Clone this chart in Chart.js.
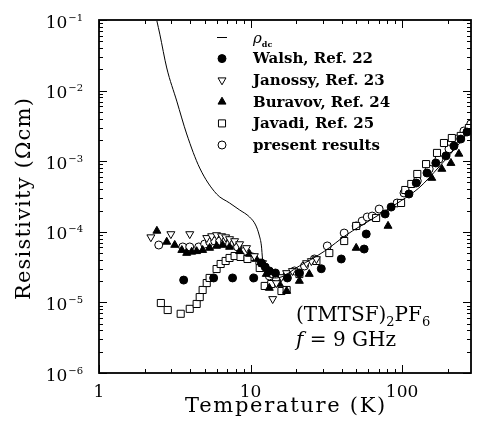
<!DOCTYPE html>
<html>
<head>
<meta charset="utf-8">
<script src="https://cdn.jsdelivr.net/npm/chart.js@4.4.0/dist/chart.umd.min.js"></script>
<style>
  html, body { margin: 0; padding: 0; background: #fff; }
  canvas { display: block; }
</style>
</head>
<body>
<canvas id="resChart" width="477" height="422"></canvas>
<script>
// tick labels
const xTicks = [1, 10, 100];
const yTickExps = [-6, -5, -4, -3, -2, -1];

// dc resistivity curve
const rhoDcT = [2.41, 2.52, 2.80, 3.26, 3.79, 4.62, 5.97, 7.27, 8.47, 9.85, 10.8, 11.4, 11.8, 12.0, 12.4, 13.3, 14.8, 21.0, 30.7, 42.8, 63.5, 91.4, 129, 175, 237, 284];
const rhoDc  = [0.097, 0.063, 0.0209, 7.1e-3, 2.43e-3, 8.0e-4, 3.43e-4, 2.56e-4, 2.04e-4, 1.62e-4, 1.25e-4, 9.0e-5, 6.3e-5, 4.12e-5, 2.79e-5, 2.29e-5, 2.22e-5, 3.28e-5, 5.3e-5, 9.0e-5, 1.52e-4, 2.48e-4, 4.17e-4, 8.28e-4, 1.75e-3, 2.86e-3];

// Walsh, Ref. 22
const walshT   = [3.62, 5.71, 7.61, 10.5, 11.8, 12.5, 13.3, 14.6, 17.5, 21.0, 29.3, 39.7, 56.2, 58.0, 77.3, 84.7, 111, 124, 146, 167, 195, 220, 244, 268];
const walshRho = [2.07e-5, 2.22e-5, 2.22e-5, 2.22e-5, 3.61e-5, 3.17e-5, 2.79e-5, 2.61e-5, 2.22e-5, 2.61e-5, 3.0e-5, 4.12e-5, 5.7e-5, 9.3e-5, 1.79e-4, 2.24e-4, 3.43e-4, 4.91e-4, 6.81e-4, 9.44e-4, 1.19e-3, 1.64e-3, 2.06e-3, 2.59e-3];

// Janossy, Ref. 23
const janossyT   = [2.20, 2.98, 3.97, 5.14, 5.54, 5.97, 6.44, 6.85, 7.27, 7.85, 8.47, 9.41, 10.6, 12.0, 12.9, 14.0, 14.8, 16.0, 17.3, 18.9, 23.4, 25.2, 27.2];
const janossyRho = [8.4e-5, 9.3e-5, 9.3e-5, 8.2e-5, 8.7e-5, 9.0e-5, 8.7e-5, 8.4e-5, 7.9e-5, 7.4e-5, 6.7e-5, 5.9e-5, 4.54e-5, 3.61e-5, 2.79e-5, 1.12e-5, 1.88e-5, 2.29e-5, 2.61e-5, 2.79e-5, 3.61e-5, 3.86e-5, 4.12e-5];

// Buravov, Ref. 24
const buravovT   = [2.41, 2.80, 3.16, 3.52, 3.79, 4.09, 4.41, 4.83, 5.37, 5.97, 6.54, 7.27, 8.47, 9.85, 10.9, 12.0, 12.7, 13.3, 15.5, 17.3, 21.0, 24.4, 49.8, 80.8, 157, 183, 210, 237];
const buravovRho = [1.03e-4, 7.2e-5, 6.5e-5, 5.5e-5, 5.0e-5, 5.2e-5, 5.3e-5, 5.5e-5, 5.9e-5, 6.3e-5, 6.5e-5, 6.1e-5, 5.3e-5, 4.85e-5, 4.12e-5, 3.5e-5, 2.52e-5, 1.6e-5, 1.82e-5, 1.45e-5, 2.01e-5, 2.52e-5, 5.9e-5, 1.21e-4, 5.78e-4, 7.76e-4, 9.4e-4, 1.27e-3];

// Javadi, Ref. 25
const javadiT   = [2.56, 2.84, 3.46, 3.97, 4.41, 4.62, 4.83, 5.14, 5.37, 5.97, 6.35, 6.85, 7.27, 7.85, 8.59, 9.55, 11.5, 12.4, 13.7, 16.0, 17.3, 21.0, 27.2, 33.1, 41.5, 49.8, 67.4, 98.5, 105, 115, 126, 144, 170, 189, 213, 244, 276];
const javadiRho = [9.8e-6, 7.8e-6, 6.9e-6, 8.1e-6, 9.5e-6, 1.19e-5, 1.5e-5, 1.88e-5, 2.22e-5, 2.97e-5, 3.5e-5, 3.86e-5, 4.26e-5, 4.54e-5, 4.4e-5, 4.12e-5, 3.07e-5, 1.71e-5, 1.82e-5, 1.45e-5, 1.5e-5, 2.52e-5, 3.86e-5, 5.0e-5, 7.4e-5, 1.21e-4, 1.57e-4, 2.56e-4, 3.91e-4, 4.76e-4, 6.59e-4, 9.1e-4, 1.31e-3, 1.81e-3, 2.13e-3, 2.28e-3, 2.95e-3];

// present results
const presentT   = [2.48, 3.57, 3.97, 4.55, 4.98, 5.37, 5.80, 6.25, 6.74, 7.27, 8.21, 9.13, 10.3, 11.5, 12.4, 13.3, 14.8, 17.3, 19.5, 22.7, 26.4, 32.1, 41.5, 49.8, 54.5, 58.9, 63.5, 70.6, 92.7, 103, 126, 151, 175, 204, 230, 256, 284];
const presentRho = [6.5e-5, 6.1e-5, 6.1e-5, 6.1e-5, 6.7e-5, 7.2e-5, 7.4e-5, 7.4e-5, 7.2e-5, 6.7e-5, 6.1e-5, 5.3e-5, 4.4e-5, 3.61e-5, 3.07e-5, 2.37e-5, 2.07e-5, 2.37e-5, 2.79e-5, 3.28e-5, 4.12e-5, 6.3e-5, 9.6e-5, 1.21e-4, 1.42e-4, 1.62e-4, 1.67e-4, 2.1e-4, 2.56e-4, 3.55e-4, 5.25e-4, 7.76e-4, 1.07e-3, 1.49e-3, 2.06e-3, 2.68e-3, 3.37e-3];

const xTitle = 'Temperature (K)';
const yTitle = 'Resistivity (\u03A9cm)';

const serif = "'DejaVu Serif', 'Liberation Serif', serif";

function pts(xs, ys) {
  return xs.map((x, i) => ({ x: x, y: ys[i] }));
}

function marker(label, xs, ys, style, radius, fill, rotation) {
  return {
    label: label,
    data: pts(xs, ys),
    showLine: false,
    pointStyle: style,
    pointRadius: radius,
    pointHoverRadius: radius,
    pointRotation: rotation || 0,
    backgroundColor: fill,
    pointBackgroundColor: fill,
    borderColor: '#000',
    pointBorderColor: '#000',
    pointBorderWidth: 1
  };
}

// draw text pieces one after another (for sub/superscripts)
function drawRuns(ctx, x, runs) {
  runs.forEach(r => {
    ctx.font = r.font;
    ctx.fillText(r.text, x, r.y);
    x += ctx.measureText(r.text).width;
  });
}

const framePlugin = {
  id: 'frame',
  afterDraw(chart) {
    const ctx = chart.ctx;
    const a = chart.chartArea;
    const xs = chart.scales.x, ys = chart.scales.y;
    ctx.save();
    ctx.strokeStyle = '#000';
    ctx.fillStyle = '#000';

    // inward ticks on all four sides
    ctx.lineWidth = 1;
    ctx.beginPath();
    for (let e = 0; e <= 2; e++) {
      for (let m = 1; m <= 9; m++) {
        const v = m * Math.pow(10, e);
        if (v < xs.min || v > xs.max) continue;
        const px = Math.round(xs.getPixelForValue(v)) + 0.5;
        const len = m === 1 ? 8 : 4;
        ctx.moveTo(px, a.bottom); ctx.lineTo(px, a.bottom - len);
        ctx.moveTo(px, a.top); ctx.lineTo(px, a.top + len);
      }
    }
    for (let e = -6; e <= -1; e++) {
      for (let m = 1; m <= 9; m++) {
        const v = m * Math.pow(10, e);
        if (v < ys.min * 0.999 || v > ys.max * 1.001) continue;
        const py = Math.round(ys.getPixelForValue(v)) + 0.5;
        const len = m === 1 ? 8 : 4;
        ctx.moveTo(a.left, py); ctx.lineTo(a.left + len, py);
        ctx.moveTo(a.right, py); ctx.lineTo(a.right - len, py);
      }
    }
    ctx.stroke();

    ctx.lineWidth = 1.8;
    ctx.strokeRect(a.left, a.top, a.right - a.left, a.bottom - a.top);

    // x tick labels
    ctx.textAlign = 'center';
    ctx.textBaseline = 'alphabetic';
    ctx.font = '17px ' + serif;
    xs.ticks.forEach(t => {
      ctx.fillText(String(t.value), xs.getPixelForValue(t.value), 397);
    });

    // y tick labels 10^n
    ctx.textAlign = 'left';
    ys.ticks.forEach(t => {
      const py = ys.getPixelForValue(t.value);
      const e = Math.round(Math.log10(t.value));
      const exp = '\u2212' + Math.abs(e);
      ctx.font = '10px ' + serif;
      const ew = ctx.measureText(exp).width;
      ctx.font = '17px ' + serif;
      const bw = ctx.measureText('10').width;
      const right = 83;
      ctx.fillText('10', right - ew - bw - 1, py + 7.5);
      ctx.font = '10px ' + serif;
      ctx.fillText(exp, right - ew, py + 0.5);
    });

    // axis titles, letter-spaced like the original
    ctx.font = '21px ' + serif;
    ctx.textAlign = 'center';
    ctx.textBaseline = 'middle';
    ctx.letterSpacing = '1.7px';
    ctx.fillText(xTitle, (a.left + a.right) / 2 + 1, 407);
    ctx.letterSpacing = '1.2px';
    ctx.save();
    ctx.translate(25, (a.top + a.bottom) / 2 + 2);
    ctx.rotate(-Math.PI / 2);
    ctx.fillText(yTitle, 0, 0);
    ctx.restore();
    ctx.letterSpacing = '0px';
    ctx.textAlign = 'left';
    ctx.textBaseline = 'alphabetic';

    // legend inside the plot
    const symX = 222, textX = 253, top0 = 37, step = 21.6;
    chart.data.datasets.forEach((ds, i) => {
      const y = top0 + i * step;
      if (ds.showLine) {
        ctx.lineWidth = 1;
        ctx.beginPath();
        ctx.moveTo(symX - 5, y + 0.5); ctx.lineTo(symX + 5, y + 0.5);
        ctx.stroke();
      } else {
        ctx.fillStyle = ds.backgroundColor;
        ctx.strokeStyle = '#000';
        ctx.lineWidth = 1;
        Chart.helpers.drawPoint(ctx, {
          pointStyle: ds.pointStyle,
          rotation: ds.pointRotation,
          radius: ds.pointRadius,
          borderWidth: 1
        }, symX, y);
      }
      ctx.fillStyle = '#000';
      if (ds.label.indexOf('_') >= 0) {
        const parts = ds.label.split('_');
        drawRuns(ctx, textX, [
          { text: parts[0], font: 'italic 15px ' + serif, y: y + 6 },
          { text: parts[1], font: 'bold 8px ' + serif, y: y + 10 }
        ]);
      } else {
        ctx.font = 'bold 15px ' + serif;
        ctx.textBaseline = 'middle';
        ctx.fillText(ds.label, textX, y + 1);
        ctx.textBaseline = 'alphabetic';
      }
    });

    // sample annotation
    ctx.fillStyle = '#000';
    drawRuns(ctx, 296, [
      { text: '(TMTSF)', font: '20px ' + serif, y: 321 },
      { text: '2', font: '13px ' + serif, y: 326 },
      { text: 'PF', font: '20px ' + serif, y: 321 },
      { text: '6', font: '13px ' + serif, y: 326 }
    ]);
    drawRuns(ctx, 296, [
      { text: 'f', font: 'italic 20px ' + serif, y: 346 },
      { text: ' = 9 GHz', font: '20px ' + serif, y: 346 }
    ]);
    ctx.restore();
  }
};

const ctx = document.getElementById('resChart').getContext('2d');

new Chart(ctx, {
  type: 'scatter',
  data: {
    datasets: [
      {
        label: '\u03C1_dc',
        data: pts(rhoDcT, rhoDc),
        showLine: true,
        borderColor: '#000',
        borderWidth: 1,
        pointRadius: 0,
        pointHoverRadius: 0,
        cubicInterpolationMode: 'monotone',
        fill: false
      },
      marker('Walsh, Ref. 22', walshT, walshRho, 'circle', 4, '#000'),
      marker('Janossy, Ref. 23', janossyT, janossyRho, 'triangle', 4.6, '#fff', 180),
      marker('Buravov, Ref. 24', buravovT, buravovRho, 'triangle', 4.6, '#000'),
      marker('Javadi, Ref. 25', javadiT, javadiRho, 'rect', 5, '#fff'),
      marker('present results', presentT, presentRho, 'circle', 4, '#fff')
    ]
  },
  options: {
    responsive: false,
    animation: false,
    layout: { padding: { top: 20, right: 5, left: 0, bottom: 0 } },
    plugins: {
      legend: { display: false },
      tooltip: { enabled: false }
    },
    scales: {
      x: {
        type: 'logarithmic',
        min: 1,
        max: 285,
        grid: { display: false, drawTicks: false },
        border: { display: false },
        ticks: { display: false },
        afterBuildTicks: s => { s.ticks = xTicks.map(v => ({ value: v })); },
        afterFit: s => { s.height = 49; }
      },
      y: {
        type: 'logarithmic',
        min: 1e-6,
        max: 1e-1,
        grid: { display: false, drawTicks: false },
        border: { display: false },
        ticks: { display: false },
        afterBuildTicks: s => { s.ticks = yTickExps.map(e => ({ value: Math.pow(10, e) })); },
        afterFit: s => { s.width = 99; }
      }
    }
  },
  plugins: [framePlugin]
});
</script>
</body>
</html>
